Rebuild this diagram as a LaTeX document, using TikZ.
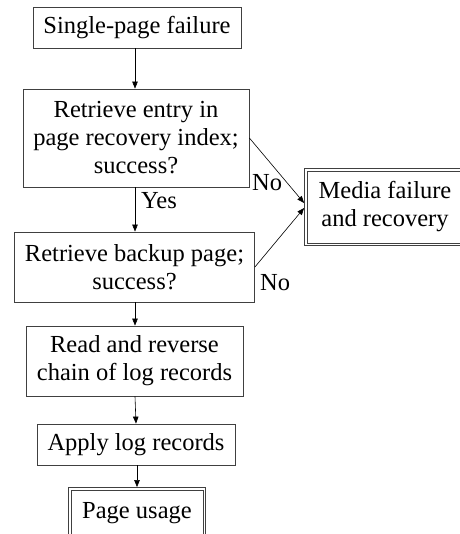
\documentclass[tikz,border=0pt]{standalone}
\usepackage{fontspec}
\setmainfont{Liberation Serif}
\usetikzlibrary{arrows.meta,calc}
\tikzset{
  box/.style={draw=black!75, line width=0.8pt, rectangle, inner sep=0pt, align=center,
    font=\fontsize{24.5}{28}\selectfont},
  inner/.style={draw=black!75, line width=0.8pt},
  flow/.style={-{Triangle[length=7pt,width=5.5pt]}, line width=0.6pt, black},
  lbl/.style={inner sep=0pt, anchor=base west, font=\fontsize{24.5}{28}\selectfont}
}
\begin{document}
\begin{tikzpicture}[x=1pt,y=-1pt]
\useasboundingbox (0,0) rectangle (459,534);
\node[box, minimum width=208pt, minimum height=41pt] (b1) at (137,27.5) {Single-page failure};
\node[box, minimum width=226pt, minimum height=98pt] (b2) at (136,138) {Retrieve entry in\\page recovery index;\\success?};
\node[box, minimum width=240pt, minimum height=70pt] (b3) at (134.5,267) {Retrieve backup page;\\success?};
\node[box, minimum width=217pt, minimum height=70pt] (b4) at (134.5,361) {Read and reverse\\chain of log records};
\node[box, minimum width=198pt, minimum height=41pt] (b5) at (136,444.5) {Apply log records};
\node[box, minimum width=137pt, minimum height=51pt] (b6) at (137,513) {Page usage};
\draw[inner] ($(b6.south west)+(3,-3)$) rectangle ($(b6.north east)+(-3,3)$);
\node[box, minimum width=161pt, minimum height=77pt] (media) at (385,207) {Media failure\\and recovery};
\draw[inner] ($(media.south west)+(3,-3)$) rectangle ($(media.north east)+(-3,3)$);

\coordinate (m1) at ($(media.west)+(0,-4)$);
\coordinate (m2) at ($(media.west)+(0,1)$);

\draw[flow] (b1.south -| 135,0) -- (b2.north -| 135,0);
\draw[flow] (b2.south -| 135,0) -- (b3.north -| 135,0);
\draw[flow] (b3.south -| 135,0) -- (b4.north -| 135,0);
\draw[flow] (b4.south -| 135,0) -- (b5.north -| 136,0);
\draw[flow] (b5.south -| 137,0) -- (b6.north -| 137,0);
\draw[flow] (b2.east) -- (m1);
\draw[flow] (b3.east) -- (m2);

\node[lbl] (yes) at (141,208) {Yes};
\node[lbl] (no1) at (252,191) {No};
\node[lbl] (no2) at (260,290) {No};
\end{tikzpicture}
\end{document}
